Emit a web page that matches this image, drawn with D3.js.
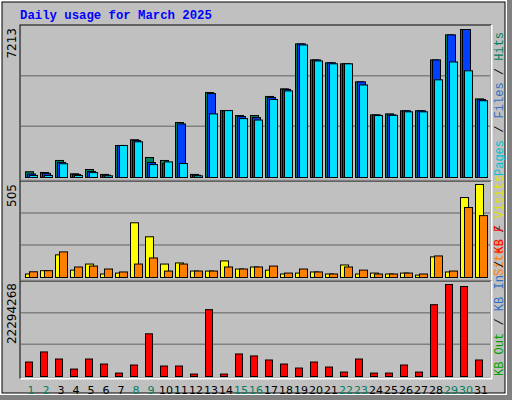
<!DOCTYPE html>
<html>
<head>
<meta charset="UTF-8">
<script src="https://d3js.org/d3.v7.min.js"></script>
<style>
  body { margin: 0; background: #fff; }
  svg { display: block; }
</style>
</head>
<body>
<svg width="512" height="400"></svg>
<script>
// data
const days = d3.range(1, 32);
const weekend = [1, 2, 8, 9, 15, 16, 22, 23, 29, 30];
const hits  = [280,245,830,180,390,150,1560,1840,975,830,2680,150,4140,3260,3020,3020,3950,4320,6510,5730,5590,5540,4660,3050,3100,3250,3250,5730,6950,7213,3830];
const files = [170,200,735,150,290,110,1560,1800,730,680,2610,110,4090,3260,2970,2920,3900,4290,6510,5730,5590,5540,4660,3050,3050,3250,3250,5730,6950,7213,3800];
const pages = [100,100,670,100,240,80,1560,1740,630,760,680,80,3100,3260,2870,2800,3800,4220,6460,5680,5540,5540,4510,3020,3030,3200,3200,4760,5630,5200,3740];
const visits = [19,37,123,40,73,19,24,297,221,73,79,35,35,90,46,57,40,19,24,30,19,68,19,24,19,24,13,112,30,434,505];
const sites  = [31,37,139,57,62,46,30,73,106,35,73,35,35,57,46,57,62,24,46,30,19,57,40,19,19,24,19,117,35,380,336];
const kbytes = [3.51,5.95,4.24,1.80,4.24,3.02,0.83,2.78,10.34,2.54,2.54,0.59,16.2,0.59,5.46,4.98,4.0,3.02,2.05,3.51,2.29,1.07,4.24,0.83,0.83,2.78,1.07,17.4,22.294268,21.8,4.0].map(v => v * 1e6);
const maxLabels = ["7213", "505", "22294268"];

const svg = d3.select("svg");
const mono = "'Liberation Mono', 'DejaVu Sans Mono', monospace";

// frame
svg.append("rect").attr("x", 0).attr("y", 0).attr("width", 512).attr("height", 400).attr("fill", "#808080");
svg.append("rect").attr("x", 0).attr("y", 0).attr("width", 507).attr("height", 395).attr("fill", "#fff");
svg.append("rect").attr("x", 2).attr("y", 2).attr("width", 503).attr("height", 391).attr("fill", "#c0c0c0");
svg.append("rect").attr("x", 2).attr("y", 2).attr("width", 503).attr("height", 391).attr("fill", "none").attr("stroke", "#000").attr("stroke-width", 1);

svg.append("text").attr("x", 20).attr("y", 19)
  .attr("font-family", mono).attr("font-weight", "bold").attr("font-size", 12.3)
  .attr("fill", "#0000ff").text("Daily usage for March 2025");

const x = d3.scaleLinear().domain([1, 31]).range([25, 475]);

const panels = [
  { top: 25, base: 177, max: 7213, peak: 29 },
  { top: 181, base: 277, max: 505, peak: 184 },
  { top: 281, base: 376, max: 22294268, peak: 284 }
];

panels.forEach((p, i) => {
  const bottom = i < 2 ? panels[i + 1].top - 1 : 378;
  svg.append("rect").attr("x", 20).attr("y", p.top).attr("width", 471).attr("height", bottom - p.top)
    .attr("fill", "#c0c0c0").attr("stroke", "#000");
  svg.append("path").attr("d", `M20.5,${bottom + 0.5}H491.5V${p.top}`).attr("stroke", "#fff").attr("stroke-width", 2).attr("fill", "none");
  const h = p.base - p.top;
  [1, 2].forEach(k => {
    svg.append("line").attr("x1", 21).attr("x2", 490)
      .attr("y1", p.base - h * k / 3).attr("y2", p.base - h * k / 3)
      .attr("stroke", "#808080").attr("stroke-width", 1.5);
  });
  p.y = d3.scaleLinear().domain([0, p.max]).range([p.base, p.peak]);
  const ly = p.top + (i === 2 ? 2 : 3);
  svg.append("text").attr("transform", `translate(16,${ly}) rotate(-90)`)
    .attr("text-anchor", "end").attr("font-family", "'DejaVu Sans', sans-serif").attr("font-size", 12)
    .attr("fill", "#000").text(maxLabels[i]);
});

function bars(vals, y, dx, w, color) {
  svg.append("g").selectAll("rect").data(vals).join("rect")
    .attr("x", (d, i) => x(days[i]) + dx + 0.5)
    .attr("y", d => y(d) + 0.5)
    .attr("width", w)
    .attr("height", d => Math.max(0, y(0) - y(d)))
    .attr("fill", color).attr("stroke", "#000").attr("stroke-width", 1);
}

bars(hits, panels[0].y, 0, 8, "#00805c");
bars(files, panels[0].y, 2, 8, "#0040ff");
bars(pages, panels[0].y, 4, 8, "#00e0ff");
bars(visits, panels[1].y, 0, 8, "#ffff00");
bars(sites, panels[1].y, 4, 8, "#ff8000");
bars(kbytes, panels[2].y, 0, 7, "#ff0000");

// day labels
svg.append("g").selectAll("text").data(days).join("text")
  .attr("x", d => x(d) + 6).attr("y", 394)
  .attr("text-anchor", "middle").attr("font-family", "'DejaVu Sans', sans-serif").attr("font-size", 11)
  .attr("fill", d => weekend.includes(d) ? "#008060" : "#000")
  .text(d => d);

// right rotated legends
function legend(parts, yStart) {
  const t = svg.append("text").attr("transform", `translate(503,${yStart}) rotate(-90)`)
    .attr("font-family", mono).attr("font-size", 12);
  parts.forEach(([s, c]) => t.append("tspan").attr("fill", c).text(s));
}
legend([["Pages", "#00c0d0"], [" / ", "#000"], ["Files", "#3070c0"], [" / ", "#000"], ["Hits", "#008060"]], 176);
legend([["Sites", "#ff8000"], [" / ", "#000"], ["Visits", "#e0e000"]], 276);
legend([["KB Out", "#00a000"], [" / ", "#000"], ["KB In", "#3070c0"], [" / ", "#000"], ["KB F", "#ff0000"]], 376);
</script>
</body>
</html>
